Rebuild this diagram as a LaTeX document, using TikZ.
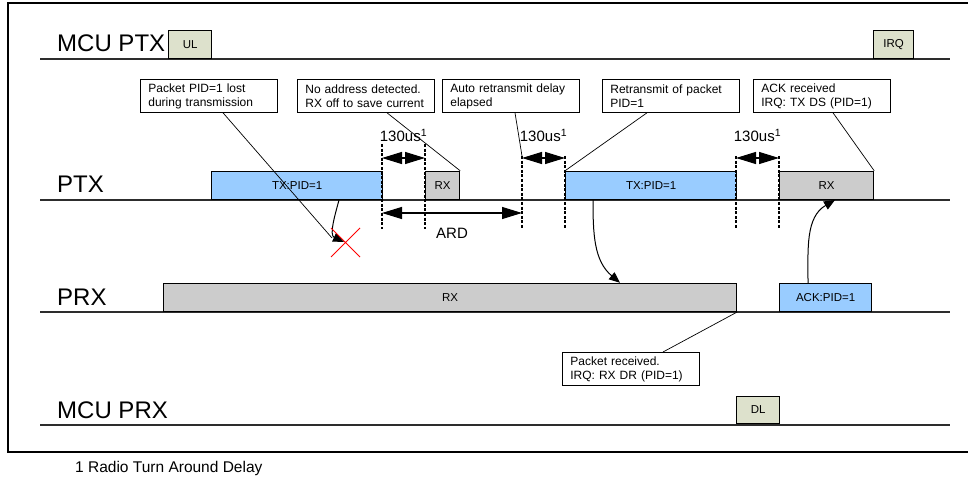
\documentclass[tikz,border=0pt]{standalone}
\usepackage{fontspec}
\setmainfont{Liberation Sans}
\usetikzlibrary{arrows.meta, quotes}

\definecolor{txblue}{RGB}{153,204,255}
\definecolor{rxgray}{RGB}{204,204,204}
\definecolor{mcugreen}{RGB}{221,225,204}
\definecolor{lanegray}{RGB}{45,45,45}

\begin{document}
\begin{tikzpicture}[
	x=1pt, y=-1pt,
	lane/.style = {draw=lanegray, line width=1.4pt},
	lanename/.style = {anchor=base west, inner sep=0pt, font=\fontsize{24}{24}\selectfont},
	slot/.style = {draw, line width=1.2pt, inner sep=0pt, minimum height=28pt,
	               anchor=south west, font=\fontsize{11.5}{12}\selectfont},
	note/.style = {draw, line width=0.8pt, anchor=north west, text width=121pt,
	               inner xsep=8pt, inner ysep=3pt, minimum height=33pt, align=left,
	               font=\fontsize{12}{14}\selectfont},
	pointer/.style = {line width=0.7pt},
	tick/.style = {line width=2.2pt, dash pattern=on 3pt off 1.6pt},
	gap/.style = {line width=1.2pt, {Triangle[length=20pt, width=12pt]}-{Triangle[length=20pt, width=12pt]}},
	flow/.style = {line width=1pt, -{Triangle[length=11pt, width=9pt]}},
	every edge quotes/.style = {font=\fontsize{15}{15}\selectfont, inner sep=0pt}
     ]
		\useasboundingbox (0,0) rectangle (968,478);
		\draw[line width=1.3pt] (8,3) rectangle (990,452);
%
		\foreach \y/\name in {59/MCU PTX, 200/PTX, 312/PRX, 425/MCU PRX} {
			\draw[lane] (40,\y) -- (950,\y);
			\node[lanename] (lane\y) at (57,\y-7) {\name};
		}
%
		\node[slot, fill=mcugreen, minimum width=43pt] (ul) at (168,59) {UL};
		\node[slot, fill=mcugreen, minimum width=40pt] (irq) at (873,59) {IRQ};
		\node[slot, fill=txblue, minimum width=171pt] (txa) at (211,200) {TX:PID=1};
		\node[slot, fill=rxgray, minimum width=34pt] (rxa) at (425,200) {RX};
		\node[slot, fill=txblue, minimum width=171pt] (txb) at (565,200) {TX:PID=1};
		\node[slot, fill=rxgray, minimum width=94pt] (rxb) at (779,200) {RX};
		\node[slot, fill=rxgray, minimum width=573pt] (rxp) at (163,312) {RX};
		\node[slot, fill=txblue, minimum width=92pt] (ack) at (779,312) {ACK:PID=1};
		\node[slot, fill=mcugreen, minimum width=43pt, minimum height=27pt] (dl) at (736,424) {DL};
%
		\foreach \x/\t in {382/144, 425/144, 522/156, 565/156, 736/156, 779/156}
			\draw[tick] (\x,\t) -- (\x,229);
		\coordinate (ardmark) at (522,156);
		\coordinate (drop) at (344,242);
%
		\draw[gap] (382,158) to ["130us\textsuperscript{1}" {above=16pt}] (425,158);
		\draw[gap] (522,158) to ["130us\textsuperscript{1}" {above=16pt}] (565,158);
		\draw[gap] (736,158) to ["130us\textsuperscript{1}" {above=16pt}] (779,158);
		\draw[gap] (382,213) to ["ARD" {below=15pt}] (522,213);
%
		\node[note] (lostnote) at (140,79) {Packet PID=1 lost\\during transmission};
		\node[note] (noaddr) at (297,79) {No address detected.\\RX off to save current};
		\node[note] (ardend) at (442,79) {Auto retransmit delay\\elapsed};
		\node[note] (retx) at (602,79) {Retransmit of packet\\PID=1};
		\node[note] (ackrx) at (753,79) {ACK received\\IRQ: TX DS (PID=1)};
		\node[note] (pktrx) at (562,352) {Packet received.\\IRQ: RX DR (PID=1)};
%
		\draw[pointer] ([xshift=83pt]lostnote.south west) -- ([xshift=-12pt, yshift=4pt]drop);
		\draw[pointer] ([xshift=90pt]noaddr.south west) -- (rxa.north east);
		\draw[pointer] ([xshift=73pt]ardend.south west) -- (ardmark);
		\draw[pointer] ([xshift=45pt]retx.south west) -- (txb.north west);
		\draw[pointer] ([xshift=80pt]ackrx.south west) -- (rxb.north east);
		\draw[pointer] ([xshift=101pt]pktrx.north west) -- (rxp.south east);
%
		\draw[flow] ([xshift=128pt]txa.south west) to [out=-105, in=155] (drop);
		\draw[flow] ([xshift=28pt]txb.south west) to [out=-90, in=140] ([xshift=457pt]rxp.north west);
		\draw[flow] ([xshift=29pt]ack.north west) to [out=90, in=-150] ([xshift=56pt]rxb.south west);
%
		\draw[red, line width=1pt] (331,228) -- (360,257) (331,257) -- (360,228);
%
		\node[anchor=base west, inner sep=0pt, font=\fontsize{15.5}{16}\selectfont] (fnote) at (75,472) {1 Radio Turn Around Delay};
\end{tikzpicture}
\end{document}
